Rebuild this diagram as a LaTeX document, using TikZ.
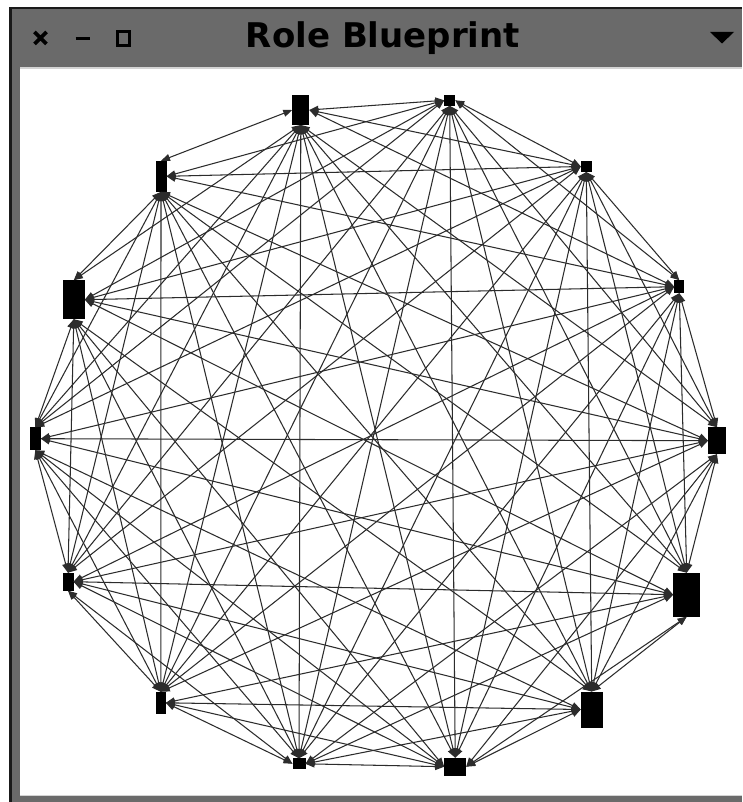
\documentclass[tikz,border=0pt]{standalone}
\usepackage{fontspec}
\newfontfamily\titlefont{DejaVu Sans}
\usetikzlibrary{arrows.meta}
\definecolor{framegrey}{HTML}{6A6A6A}
\definecolor{framedark}{HTML}{1A1A1A}
\definecolor{framelight}{HTML}{D4D4D4}
\definecolor{edgecol}{HTML}{2C2C2C}
\newdimen\edgedx
\newdimen\edgedy
\tikzset{
  vtx/.style 2 args={fill=black,draw=none,inner sep=0pt,outer sep=0pt,
    minimum width=#1pt,minimum height=#2pt},
  edge/.style={draw=edgecol,line width=1.05pt,
    {Triangle[length=9pt,width=7pt]}-{Triangle[length=9pt,width=7pt]}},
  icon/.style={line width=3.6pt,black}
}
\begin{document}
\begin{tikzpicture}[x=1pt,y=-1pt]
\useasboundingbox (0,0) rectangle (742,802);
\fill[white] (0,0) rectangle (742,802);
% window frame
\fill[framedark] (9,7) rectangle (742,9);
\fill[framedark] (9,7) rectangle (11.5,802);
\fill[framegrey] (11.5,9) rectangle (742,67);
\fill[framegrey] (11.5,67) rectangle (20,802);
\fill[framegrey] (20,796) rectangle (742,802);
\fill[framelight] (20,67) rectangle (742,69);
\fill[framelight] (20,794.5) rectangle (742,796);
% title bar icons
\draw[icon,line width=3.8pt] (34.5,32) -- (46.5,44) (46.5,32) -- (34.5,44);
\draw[icon,line width=3.8pt] (75.5,38.5) -- (89.5,38.5);
\draw[icon,line width=2.8pt] (117.3,31.3) rectangle (129.7,45.7);
\fill[black] (710,32) -- (734,32) -- (722,43.5) -- cycle;
\node[font=\titlefont\bfseries\fontsize{34}{34}\selectfont,anchor=base,inner sep=0pt]
  (title) at (383,47.5) {Role Blueprint};
% graph nodes
\node[vtx={17}{30}] (n1) at (300.8,110) {};
\node[vtx={11}{11}] (n2) at (449.7,100.3) {};
\node[vtx={11}{11}] (n3) at (586.3,166.5) {};
\node[vtx={10}{13}] (n4) at (679.3,286.7) {};
\node[vtx={18}{27}] (n5) at (717,440.7) {};
\node[vtx={27}{44}] (n6) at (686.7,594.7) {};
\node[vtx={22}{36}] (n7) at (591.7,709.5) {};
\node[vtx={22}{18}] (n8) at (455.2,766.7) {};
\node[vtx={13}{11}] (n9) at (299,763.8) {};
\node[vtx={10}{22}] (n10) at (160.8,702.8) {};
\node[vtx={11}{18}] (n11) at (68,581.7) {};
\node[vtx={11}{23}] (n12) at (35.3,438.7) {};
\node[vtx={22}{39}] (n13) at (73.8,299.7) {};
\node[vtx={11}{31}] (n14) at (161,176.3) {};
% complete graph, each edge between the closest pair of side midpoints
\foreach \i in {1,...,13} {
  \pgfmathtruncatemacro\nxt{\i+1}
  \foreach \j in {\nxt,...,14} {
    \gdef\bestd{10000}
    \foreach \a in {north,south,east,west} {
      \foreach \b in {north,south,east,west} {
        \pgfextractx{\edgedx}{\pgfpointdiff{\pgfpointanchor{n\i}{\a}}{\pgfpointanchor{n\j}{\b}}}
        \pgfextracty{\edgedy}{\pgfpointdiff{\pgfpointanchor{n\i}{\a}}{\pgfpointanchor{n\j}{\b}}}
        \pgfmathsetmacro\curd{veclen(\edgedx,\edgedy)}
        \ifdim\curd pt<\bestd pt
          \xdef\bestd{\curd}\xdef\besta{\a}\xdef\bestb{\b}
        \fi
      }
    }
    \draw[edge] (n\i.\besta) -- (n\j.\bestb);
  }
}
\end{tikzpicture}
\end{document}
